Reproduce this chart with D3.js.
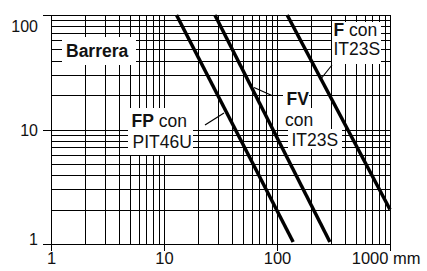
<!DOCTYPE html>
<html><head><meta charset="utf-8">
<script src="https://cdn.jsdelivr.net/npm/d3@7"></script>
<style>
html,body{margin:0;padding:0;background:#fff;}
svg{display:block;font-family:"Liberation Sans",Arial,Helvetica,sans-serif;}
.grid line{stroke:#000;stroke-width:1;shape-rendering:crispEdges;}
.axis path,.axis line{stroke:#000;stroke-width:1;shape-rendering:crispEdges;}
.axis text{fill:#111;}
</style></head>
<body><div id="chart"></div>
<script>
// axis ticks
const xTicks=[1,10,100,1000];
const xTickLabels=['1','10','100','1000 mm'];
const yTicks=[1,10,100];
const yTickLabels=['1','10','100'];
// curves (x in mm, y value), straight on log-log
const fpX=[12.9,139], fpY=[100,1.04];
const fvX=[28.2,294], fvY=[100,1.04];
const fX=[123,1000], fY=[100,2.0];

const W=427,H=271;
const svg=d3.select('#chart').append('svg').attr('width',W).attr('height',H);
const x=d3.scaleLog().domain([1,1000]).range([51,390]);
const y=d3.scaleLog().domain([1,100]).range([244,15]);
const pw=x(1000)-x(1),ph=y(1)-y(100);

// grid
svg.append('g').attr('class','grid').attr('transform',`translate(0,${y(1)})`)
  .call(d3.axisBottom(x).tickValues(x.ticks()).tickSize(-ph).tickFormat(''))
  .call(g=>g.select('.domain').remove());
svg.append('g').attr('class','grid').attr('transform',`translate(${x(1)},0)`)
  .call(d3.axisLeft(y).tickValues(y.ticks()).tickSize(-pw).tickFormat(''))
  .call(g=>g.select('.domain').remove());

// axes
const xa=svg.append('g').attr('class','axis').attr('transform',`translate(0,${y(1)})`)
  .call(d3.axisBottom(x).tickValues(xTicks).tickSizeOuter(0).tickSize(7).tickFormat((d,i)=>xTickLabels[i]));
xa.selectAll('text').attr('dy',null).attr('y',20).attr('font-size',16.5);
xa.selectAll('.tick').filter(d=>d===1000).select('text').attr('text-anchor','end').attr('x',30);
const ya=svg.append('g').attr('class','axis').attr('transform',`translate(${x(1)},0)`)
  .call(d3.axisLeft(y).tickValues(yTicks).tickSizeOuter(0).tickSize(8).tickFormat((d,i)=>yTickLabels[i]));
const yShift={1:0,10:5.5,100:16};
ya.selectAll('text').attr('dy',null).attr('x',-13).attr('y',d=>yShift[d]).attr('font-size',16);

// label boxes
const lab=svg.append('g');
function box(x0,y0,x1,y1){lab.append('rect').attr('x',x0).attr('y',y0).attr('width',x1-x0).attr('height',y1-y0).attr('fill','#fff');}
box(62,37,136,65);
box(128,108,193,155);
box(283,80,309,108);box(281,108,318,129);box(288,129,342,149);
box(332,22,381,64);
function label(tx,ty,bold,rest){
  const t=lab.append('text').attr('x',tx).attr('y',ty).attr('font-size',17.5).attr('fill','#111');
  if(bold)t.append('tspan').attr('font-weight','bold').text(bold);
  if(rest)t.append('tspan').text(rest);
}
label(66,56.5,'Barrera',null);
label(131.5,126.7,'FP',' con');
label(132.5,148.3,null,'PIT46U');
label(286.5,105,'FV',null);
label(285,126,null,'con');
label(291.5,146,null,'IT23S');
label(333.5,36,'F',' con');
label(333.5,55,null,'IT23S');

// leaders
[[205,125,224,113],[273,96,254,87.5],[332,65,320,80]].forEach(([a,b,c,d])=>{
  lab.append('line').attr('x1',a).attr('y1',b).attr('x2',c).attr('y2',d).attr('stroke','#000').attr('stroke-width',1.2);
});

// curves
const line=d3.line().x(d=>x(d[0])).y(d=>y(d[1]));
[[fpX,fpY],[fvX,fvY],[fX,fY]].forEach(([xs,ys])=>{
  svg.append('path').datum(d3.zip(xs,ys)).attr('fill','none').attr('stroke','#000').attr('stroke-width',3.5).attr('d',line);
});
</script></body></html>
